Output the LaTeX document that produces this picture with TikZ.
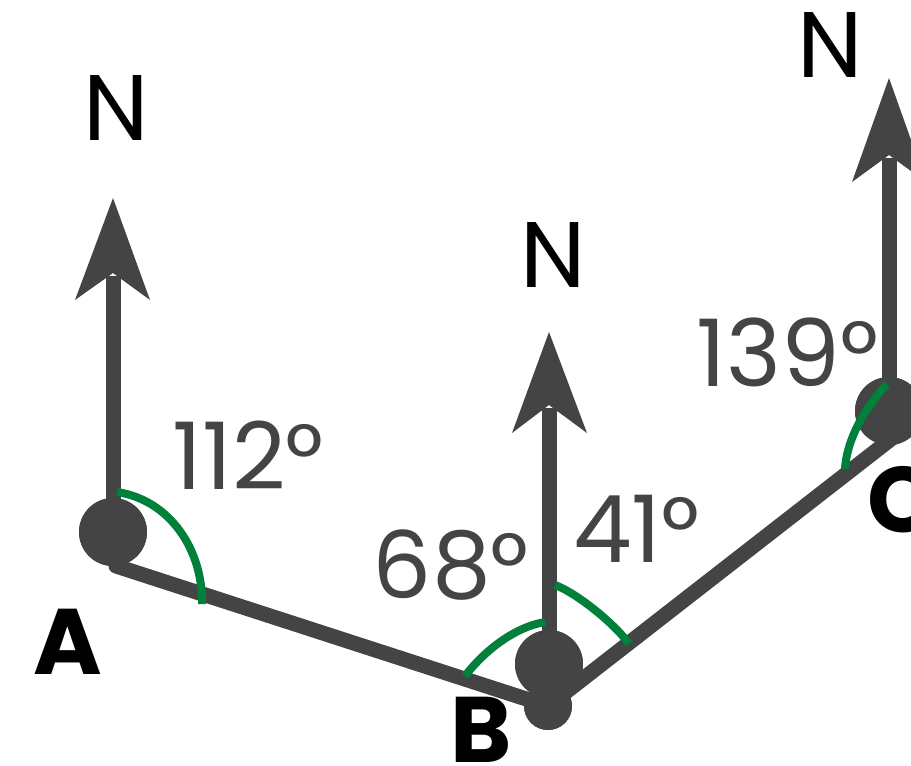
\documentclass[tikz,border=0pt]{standalone}
\usepackage{fontspec}
\setmainfont{Poppins}
\definecolor{dk}{HTML}{444444}
\definecolor{gr}{HTML}{00803A}
\tikzset{
  road/.style={draw=dk, line width=0.3cm, line cap=round},
  pole/.style={draw=dk, line width=0.3cm},
  bigdot/.style={circle, fill=dk, inner sep=0pt, minimum size=1.36cm},
  smalldot/.style={circle, fill=dk, inner sep=0pt, minimum size=0.96cm},
  tipfill/.style={fill=dk},
  angarc/.style={draw=gr, line width=0.16cm},
  deg/.style={text=dk, inner sep=0pt, font=\fontsize{53}{60}\selectfont},
  nlab/.style={text=black, inner sep=0pt, font=\fontsize{53}{60}\selectfont},
  plab/.style={text=black, inner sep=0pt, font=\fontsize{53}{60}\selectfont\bfseries}
}
\begin{document}
\begin{tikzpicture}[x=0.02cm, y=-0.02cm]
\useasboundingbox (0,0) rectangle (911,765);
\clip (0,0) rectangle (911,765);
% points
\coordinate (A0) at (116,566);
\coordinate (C0) at (900,432);
\coordinate (tipA) at (113,198);
\coordinate (notA) at (113,276);
\coordinate (tipB) at (549,332);
\coordinate (notB) at (549,408);
\coordinate (tipC) at (889,78);
\coordinate (notC) at (889,158);
\node[bigdot] (A) at (113,532) {};
\node[bigdot] (B) at (549,664) {};
\node[smalldot] (B2) at (548,706) {};
\node[bigdot] (C) at (889,411) {};
% segments
\draw[road] (A0) -- (B2.center);
\draw[road] (B2.center) -- (C0);
% north poles
\draw[pole] (A.center) -- (notA);
\draw[pole] (B.center) -- (notB);
\draw[pole] (C.center) -- (notC);
\fill[tipfill] (tipA) -- ++(-38,102) -- ++(38,-27) -- ++(37,27) -- cycle;
\fill[tipfill] (tipB) -- ++(-37,101) -- ++(37,-28) -- ++(38,28) -- cycle;
\fill[tipfill] (tipC) -- ++(-37,104) -- ++(37,-27) -- ++(37,27) -- cycle;
% dots on top
\node[bigdot] at (A) {};
\node[bigdot] at (B) {};
\node[smalldot] at (B2) {};
\node[bigdot] at (C) {};
% angle arcs
\draw[angarc] (117,492) .. controls (170,500) and (203,550) .. (202,604);
\draw[angarc] (465,676) .. controls (485,650) and (515,627) .. (545,622);
\draw[angarc] (555,585) .. controls (577,593) and (616,625) .. (629,644);
\draw[angarc] (887,384) .. controls (870,402) and (847,435) .. (845,469);
% labels
\node[nlab] (NA) at (116,108) {N};
\node[nlab] (NB) at (553.5,254.5) {N};
\node[nlab] (NC) at (830,45) {N};
\node[deg] (dA) at (248.5,455.5) {112°};
\node[deg] (dB1) at (451,565) {68°};
\node[deg] (dB2) at (636.5,529) {41°};
\node[deg] (dC) at (787.5,352) {139°};
\node[plab] (lA) at (67.5,641.5) {A};
\node[plab] (lB) at (481,729.5) {B};
\node[plab, anchor=west] (lC) at (867,500) {C};
\end{tikzpicture}
\end{document}
